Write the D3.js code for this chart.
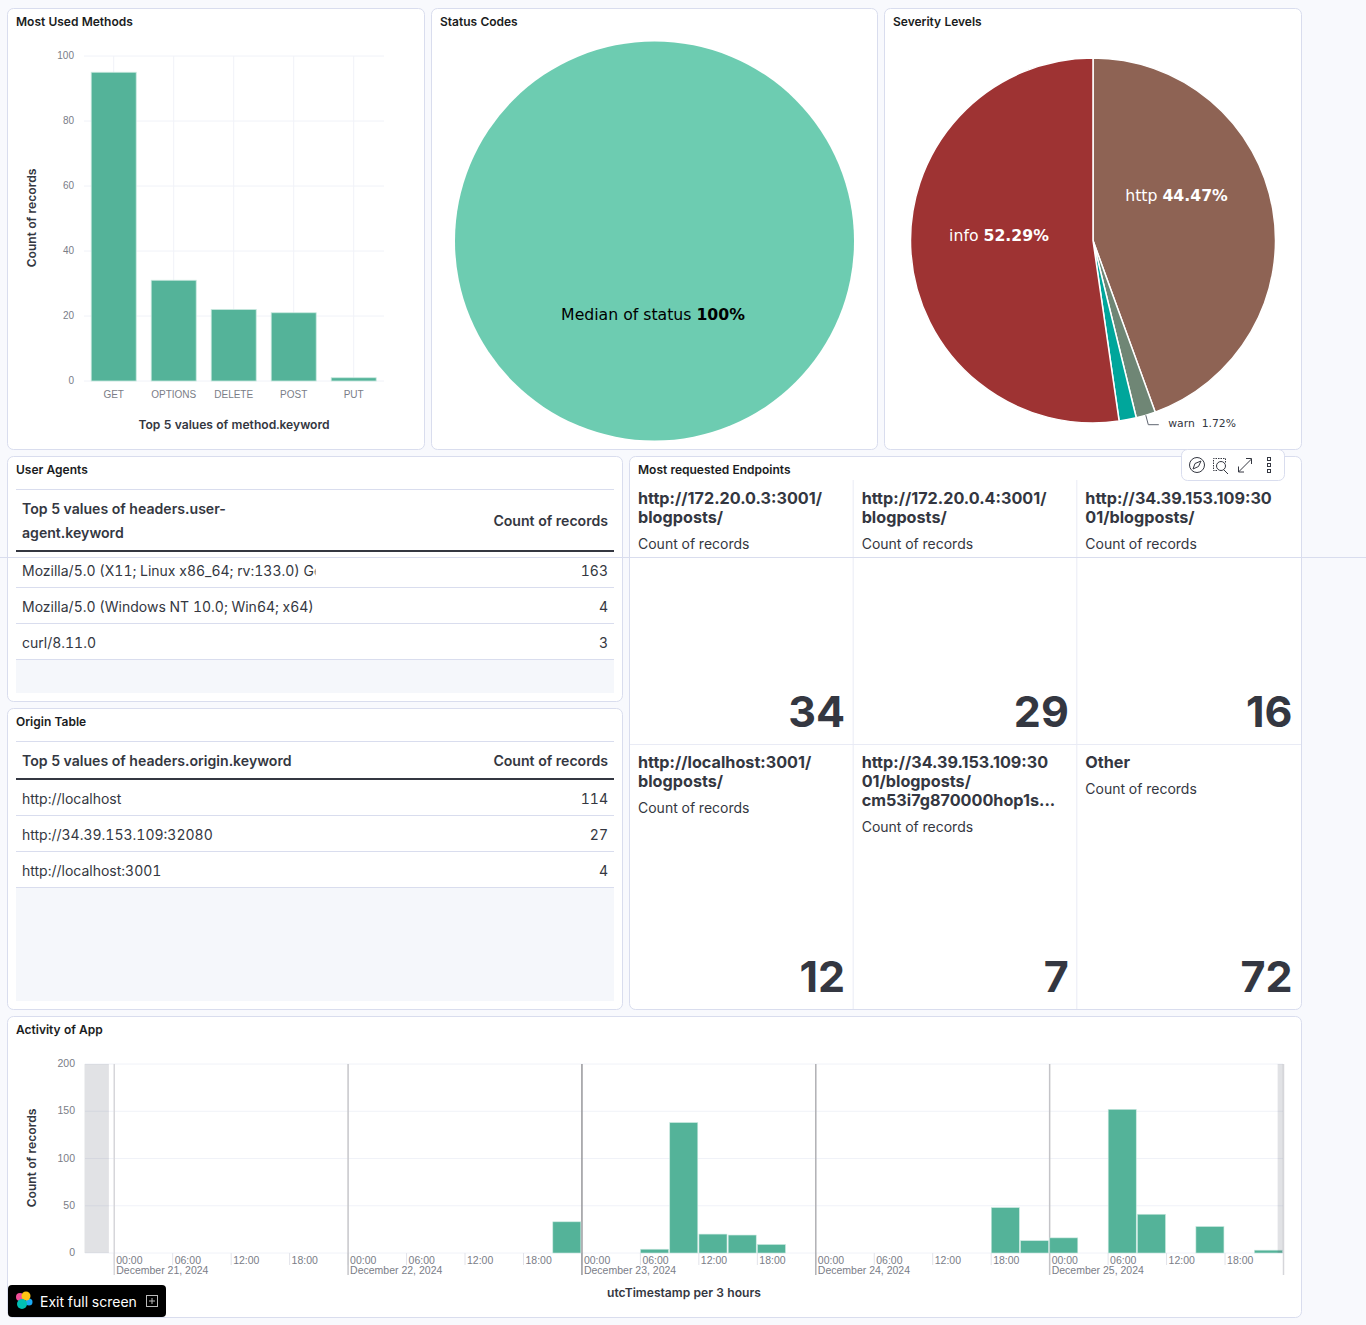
<!DOCTYPE html>
<html>
<head>
<meta charset="utf-8">
<script src="https://cdn.jsdelivr.net/npm/d3@7"></script>
<style>
	html, body { margin: 0; padding: 0; background: #f8f9fd; overflow: hidden; }
	svg { display: block; font-family: Inter, sans-serif; font-variant-numeric: tabular-nums; }
	.panel { fill: #fff; stroke: #d9ddee; }
	.panel-title { font-size: 12px; font-weight: 600; fill: #1a1c21; }
	.axis-title { font-size: 12.1px; font-weight: 600; fill: #343741; }
	.tick text { font-size: 10px; fill: #7a7d87; }
	.time-axis .tick text { font-size: 10.5px; }
	.domain { display: none; }
	.pie-label { font-family: "DejaVu Sans", sans-serif; font-size: 15.7px; }
	.th { font-size: 14.1px; font-weight: 600; fill: #343741; font-variant-numeric: normal; }
	.td { font-size: 14px; fill: #343741; }
	.metric-title { font-size: 16.2px; font-weight: 700; fill: #343741; font-variant-numeric: normal; }
	.metric-sub { font-size: 14px; fill: #343741; }
	.metric-value { font-size: 43px; font-weight: 700; fill: #343741; text-anchor: end; font-variant-numeric: normal; }
</style>
</head>
<body>
<script>
var methods = ["GET", "OPTIONS", "DELETE", "POST", "PUT"];
var methodCounts = [95, 31, 22, 21, 1];
var methodTicks = [0, 20, 40, 60, 80, 100];

var statusNames = ["Median of status"];
var statusShares = [100];

var severityNames = ["http", "warn", "error", "info"];
var severityShares = [44.47, 1.72, 1.52, 52.29];
var severityColors = ["#8e6354", "#6f8675", "#00a69b", "#9e3333"];

var agentNames = ["Mozilla/5.0 (X11; Linux x86_64; rv:133.0) Gecko/20100101 Firefox/133.0", "Mozilla/5.0 (Windows NT 10.0; Win64; x64)", "curl/8.11.0"];
var agentCounts = [163, 4, 3];

var originNames = ["http://localhost", "http://34.39.153.109:32080", "http://localhost:3001"];
var originCounts = [114, 27, 4];

var endpointTitles = [
	["http://172.20.0.3:3001/", "blogposts/"],
	["http://172.20.0.4:3001/", "blogposts/"],
	["http://34.39.153.109:30", "01/blogposts/"],
	["http://localhost:3001/", "blogposts/"],
	["http://34.39.153.109:30", "01/blogposts/", "cm53i7g870000hop1s..."],
	["Other"]
];
var endpointCounts = [34, 29, 16, 12, 7, 72];

var activityTimes = ["2024-12-22T21:00Z", "2024-12-23T06:00Z", "2024-12-23T09:00Z", "2024-12-23T12:00Z", "2024-12-23T15:00Z", "2024-12-23T18:00Z",
	"2024-12-24T18:00Z", "2024-12-24T21:00Z", "2024-12-25T00:00Z", "2024-12-25T06:00Z", "2024-12-25T09:00Z", "2024-12-25T15:00Z", "2024-12-25T21:00Z"];
var activityCounts = [33, 4, 138, 20, 19, 9, 48, 13, 16, 152, 41, 28, 3];
var activityTicks = [0, 50, 100, 150, 200];

var gridColor = "#f0f2f8";
var svg = d3.select("body").append("svg").attr("width", 1366).attr("height", 1325);

// Panels
var panels = [
	{x: 7.5, y: 8.5, w: 417, h: 441, title: "Most Used Methods"},
	{x: 431.5, y: 8.5, w: 446, h: 441, title: "Status Codes"},
	{x: 884.5, y: 8.5, w: 417, h: 441, title: "Severity Levels"},
	{x: 7.5, y: 456.5, w: 615, h: 245, title: "User Agents"},
	{x: 629.5, y: 456.5, w: 672, h: 553, title: "Most requested Endpoints"},
	{x: 7.5, y: 708.5, w: 615, h: 301, title: "Origin Table"},
	{x: 7.5, y: 1016.5, w: 1294, h: 301, title: "Activity of App"}
];
panels.forEach(function(p) {
	svg.append("rect").attr("class", "panel").attr("x", p.x).attr("y", p.y)
		.attr("width", p.w).attr("height", p.h).attr("rx", 6);
	svg.append("text").attr("class", "panel-title").attr("x", p.x + 8.5).attr("y", p.y + 17.5).text(p.title);
});

// Most used methods
var methodX = d3.scaleBand().domain(methods).range([83.7, 383.7]).paddingInner(0.25).paddingOuter(0.125);
var methodY = d3.scaleLinear().domain([0, 100]).range([381, 56]);

svg.append("g").attr("transform", "translate(0,381)")
	.call(d3.axisBottom(methodX).tickSize(0).tickPadding(10))
	.call(function(g) { g.selectAll("text").attr("dy", "0.71em"); });
svg.append("g").attr("transform", "translate(78,-0.5)")
	.call(d3.axisLeft(methodY).tickValues(methodTicks).tickSize(0).tickPadding(4));
svg.append("g").selectAll("line").data(methodTicks).enter().append("line")
	.attr("x1", 84).attr("x2", 384)
	.attr("y1", function(d) { return methodY(d); }).attr("y2", function(d) { return methodY(d); })
	.attr("stroke", gridColor);
svg.append("g").selectAll("line").data(methods).enter().append("line")
	.attr("x1", function(d) { return methodX(d) + methodX.bandwidth() / 2; })
	.attr("x2", function(d) { return methodX(d) + methodX.bandwidth() / 2; })
	.attr("y1", 56).attr("y2", 381).attr("stroke", gridColor);
svg.append("g").selectAll("rect").data(methods).enter().append("rect")
	.attr("x", function(d) { return methodX(d); })
	.attr("width", methodX.bandwidth())
	.attr("y", function(d, i) { return methodY(methodCounts[i]); })
	.attr("height", function(d, i) { return 381 - methodY(methodCounts[i]); })
	.attr("fill", "#54b399").attr("stroke", "#c9e8df").attr("stroke-width", 0.8);
svg.append("text").attr("class", "axis-title").attr("text-anchor", "middle")
	.attr("transform", "translate(36,218) rotate(-90)").text("Count of records");
svg.append("text").attr("class", "axis-title").attr("text-anchor", "middle")
	.attr("x", 234).attr("y", 429).text("Top 5 values of method.keyword");

// Status codes
var pie = d3.pie().sort(null);
var statusArc = d3.arc().innerRadius(0).outerRadius(199.5);
svg.append("g").attr("transform", "translate(654.5,241)")
	.selectAll("path").data(pie(statusShares)).enter().append("path")
	.attr("d", statusArc).attr("fill", "#6dccb1");
var statusText = svg.append("text").attr("class", "pie-label").attr("x", 653).attr("y", 320)
	.attr("text-anchor", "middle").attr("fill", "#000");
statusText.append("tspan").text(statusNames[0] + " ");
statusText.append("tspan").attr("font-weight", 700).text(statusShares[0] + "%");

// Severity levels
var severityR = 182.5;
var severityArc = d3.arc().innerRadius(0).outerRadius(severityR);
var severitySlices = pie(severityShares);
svg.append("g").attr("transform", "translate(1093,240.5)")
	.selectAll("path").data(severitySlices).enter().append("path")
	.attr("d", severityArc)
	.attr("fill", function(d, i) { return severityColors[i]; })
	.attr("stroke", "#fff").attr("stroke-width", 1.5);

function pieLabel(i, x, y) {
	var t = svg.append("text").attr("class", "pie-label").attr("x", x).attr("y", y)
		.attr("text-anchor", "middle").attr("fill", "#fff");
	t.append("tspan").text(severityNames[i] + " ");
	t.append("tspan").attr("font-weight", 700).text(severityShares[i] + "%");
}
pieLabel(0, 1176.5, 201);
pieLabel(3, 999, 241);

// Leader line for the warn slice
var warnAngle = (severitySlices[1].startAngle + severitySlices[1].endAngle) / 2;
var warnX = 1093 + severityR * Math.sin(warnAngle), warnY = 240.5 - severityR * Math.cos(warnAngle);
svg.append("path").attr("fill", "none").attr("stroke", "#5f6570")
	.attr("d", d3.line()([[warnX, warnY], [warnX + 2.5, warnY + 9.5], [warnX + 13, warnY + 9.5]]));
svg.append("text").attr("x", warnX + 22.5).attr("y", warnY + 11.5)
	.style("font-family", "'DejaVu Sans', sans-serif").style("font-size", "10.8px").attr("fill", "#343741")
	.attr("xml:space", "preserve").text(severityNames[1] + "  " + severityShares[1] + "%");

// Tables
function drawTable(opts) {
	svg.append("line").attr("x1", 16).attr("x2", 614).attr("y1", opts.top).attr("y2", opts.top).attr("stroke", "#d9ddee");
	opts.headLines.forEach(function(line, i) {
		svg.append("text").attr("class", "th").attr("x", 22).attr("y", opts.headY + i * 24).text(line);
	});
	svg.append("text").attr("class", "th").attr("x", 608).attr("y", opts.countY).attr("text-anchor", "end").text("Count of records");
	svg.append("line").attr("x1", 16).attr("x2", 614).attr("y1", opts.rule).attr("y2", opts.rule).attr("stroke", "#343741").attr("stroke-width", 2);

	var start = opts.rule + 0.5;
	var rowY = d3.scaleBand().domain(d3.range(opts.names.length)).range([start, start + 36 * opts.names.length]);
	var rows = svg.append("g").selectAll("g").data(opts.names).enter().append("g")
		.attr("transform", function(d, i) { return "translate(0," + rowY(i) + ")"; });
	rows.append("text").attr("class", "td").attr("x", 22).attr("y", 24.5)
		.attr("clip-path", function(d, i) { return opts.clip && i == 0 ? "url(#cell-row)" : null; })
		.text(function(d) { return d; });
	rows.append("text").attr("class", "td").attr("x", 608).attr("y", 24.5).attr("text-anchor", "end")
		.text(function(d, i) { return opts.counts[i]; });
	rows.append("line").attr("x1", 16).attr("x2", 614).attr("y1", 36).attr("y2", 36).attr("stroke", "#d9ddee");

	var last = start + 36 * opts.names.length + 0.5;
	svg.append("rect").attr("x", 16).attr("y", last).attr("width", 598).attr("height", opts.bottom - last).attr("fill", "#f5f7fb");
}

svg.append("clipPath").attr("id", "cell-row").append("rect").attr("x", 16).attr("y", 0).attr("width", 299.5).attr("height", 36);

drawTable({top: 489.5, headLines: ["Top 5 values of headers.user-", "agent.keyword"], headY: 514, countY: 526, rule: 551,
	names: agentNames, counts: agentCounts, bottom: 693, clip: true});
drawTable({top: 741.5, headLines: ["Top 5 values of headers.origin.keyword"], headY: 766, countY: 766, rule: 779,
	names: originNames, counts: originCounts, bottom: 1001, clip: false});

// Most requested endpoints
var cellX = d3.scaleBand().domain([0, 1, 2]).range([630, 1301]);
var cellY = d3.scaleBand().domain([0, 1]).range([480, 1008]);
var cells = svg.append("g").selectAll("g").data(endpointCounts).enter().append("g")
	.attr("transform", function(d, i) { return "translate(" + cellX(i % 3) + "," + cellY(Math.floor(i / 3)) + ")"; });
cells.each(function(d, i) {
	var cell = d3.select(this);
	var lines = endpointTitles[i];
	lines.forEach(function(line, j) {
		cell.append("text").attr("class", "metric-title").attr("x", 8).attr("y", 24 + j * 19).text(line);
	});
	cell.append("text").attr("class", "metric-sub").attr("x", 8).attr("y", 50 + (lines.length - 1) * 19).text("Count of records");
	cell.append("text").attr("class", "metric-value").attr("x", cellX.bandwidth() - 8.5).attr("y", i > 2 ? 248 : 247).text(d);
});
svg.append("g").selectAll("line").data([1, 2]).enter().append("line")
	.attr("x1", function(d) { return cellX(d) - 0.5; }).attr("x2", function(d) { return cellX(d) - 0.5; })
	.attr("y1", 480).attr("y2", 1009).attr("stroke", "#e9ebf5");
svg.append("line").attr("x1", 630).attr("x2", 1301).attr("y1", 744.5).attr("y2", 744.5).attr("stroke", "#e9ebf5");

// Stray line across the page
svg.append("line").attr("x1", 0).attr("x2", 1366).attr("y1", 557.5).attr("y2", 557.5).attr("stroke", "#d9ddee");

// Floating panel menu
var menu = svg.append("g");
menu.append("rect").attr("x", 1181.5).attr("y", 449.5).attr("width", 103).attr("height", 31).attr("rx", 6)
	.attr("fill", "#fff").attr("stroke", "#d9ddee");
var icon = menu.append("g").attr("fill", "none").attr("stroke", "#343741");
icon.append("circle").attr("cx", 1197).attr("cy", 465).attr("r", 7.5);
icon.append("path").attr("d", "M1201 461l-6 2.5-2 5.5 5.5-2.5z");
icon.append("path").attr("stroke-dasharray", "1.5 1").attr("d", "M1217 470.5h-3.5v-12h12v5");
icon.append("circle").attr("cx", 1221).attr("cy", 466).attr("r", 4.5);
icon.append("path").attr("d", "M1224 470l4 4");
icon.append("path").attr("d", "M1238.5 472l13-13M1246 458.5h5.5v5.5M1238.5 466.5v5.5h5.5");
[459, 465, 471].forEach(function(y) {
	icon.append("rect").attr("x", 1267.5).attr("y", y - 1.5).attr("width", 3).attr("height", 3);
});

// Activity of app
var parseTime = d3.isoParse;
var activityX = d3.scaleUtc()
	.domain([parseTime("2024-12-20T21:00Z"), parseTime("2024-12-26T00:00Z")])
	.range([84.5, 1283]);
var activityY = d3.scaleLinear().domain([0, 200]).range([1253, 1064]);
var binMs = 3 * 3600 * 1000;
var sixHours = d3.utcHour.range(parseTime("2024-12-21T00:00Z"), parseTime("2024-12-26T00:00Z"), 6);
var days = d3.utcDay.range(parseTime("2024-12-21T00:00Z"), parseTime("2024-12-27T00:00Z"));
var dayShades = ["#d6d6da", "#c6c6ca", "#97979b", "#b0b0b4", "#c4c4c8", "#d6d6da"];

svg.append("g").selectAll("line").data(activityTicks).enter().append("line")
	.attr("x1", 85).attr("x2", 1283)
	.attr("y1", function(d) { return activityY(d); }).attr("y2", function(d) { return activityY(d); })
	.attr("stroke", gridColor);
svg.append("g").attr("class", "time-axis").attr("transform", "translate(78,-0.7)")
	.call(d3.axisLeft(activityY).tickValues(activityTicks).tickSize(0).tickPadding(3));

svg.append("g").attr("class", "time-axis").attr("transform", "translate(0,1253)")
	.call(d3.axisBottom(activityX).tickValues(sixHours).tickSize(12).tickFormat(d3.utcFormat("%H:%M")))
	.call(function(g) {
		g.selectAll("line").attr("stroke", "#e2e3ea");
		g.selectAll("text").attr("x", 2).attr("y", 4).attr("dy", "0.71em").attr("text-anchor", "start");
	});
svg.append("g").attr("class", "time-axis").attr("transform", "translate(0,1253)")
	.call(d3.axisBottom(activityX).tickValues(days).tickSize(22).tickFormat(d3.utcFormat("%B %d, %Y")))
	.call(function(g) {
		g.selectAll("line").attr("stroke", function(d, i) { return dayShades[i]; }).attr("stroke-width", 1.5).attr("y1", -189);
		g.selectAll("text").attr("x", 2).attr("y", 14).attr("dy", "0.71em").attr("text-anchor", "start")
			.text(function(d, i) { return i < 5 ? d3.select(this).text() : ""; });
	});

svg.append("g").selectAll("rect").data(activityCounts).enter().append("rect")
	.attr("x", function(d, i) { return activityX(parseTime(activityTimes[i])) + 0.6; })
	.attr("width", function(d, i) { var t = parseTime(activityTimes[i]); return activityX(new Date(+t + binMs)) - activityX(t) - 1.2; })
	.attr("y", function(d) { return activityY(d); })
	.attr("height", function(d) { return 1253 - activityY(d); })
	.attr("fill", "#54b399").attr("stroke", "#c9e8df").attr("stroke-width", 0.6);

// Out of range overlays
var overlayEdges = [["2024-12-20T21:00Z", "2024-12-20T23:30Z"], ["2024-12-25T23:27Z", "2024-12-26T00:00Z"]];
svg.append("g").selectAll("rect").data(overlayEdges).enter().append("rect")
	.attr("x", function(d) { return activityX(parseTime(d[0])); })
	.attr("width", function(d) { return activityX(parseTime(d[1])) - activityX(parseTime(d[0])); })
	.attr("y", 1064).attr("height", 189)
	.attr("fill", "#69707d").attr("fill-opacity", 0.2);

svg.append("text").attr("class", "axis-title").attr("text-anchor", "middle")
	.attr("transform", "translate(36,1158) rotate(-90)").text("Count of records");
svg.append("text").attr("class", "axis-title").attr("text-anchor", "middle")
	.attr("x", 684).attr("y", 1297).text("utcTimestamp per 3 hours");

// Exit full screen button
var exit = svg.append("g");
exit.append("rect").attr("x", 8).attr("y", 1285).attr("width", 158).attr("height", 32).attr("rx", 4).attr("fill", "#000");
[["#f04e98", 20, 1297, 4], ["#1ba9f5", 29, 1302, 3.5], ["#fec514", 26, 1296, 4.5], ["#00bfb3", 22, 1304, 5]].forEach(function(c) {
	exit.append("circle").attr("cx", c[1]).attr("cy", c[2]).attr("r", c[3]).attr("fill", c[0]);
});
exit.append("text").attr("x", 40).attr("y", 1306.5).attr("fill", "#fff").style("font-size", "14px").text("Exit full screen");
exit.append("rect").attr("x", 146.5).attr("y", 1295.5).attr("width", 11).attr("height", 11).attr("fill", "none").attr("stroke", "#bbb");
exit.append("path").attr("stroke", "#bbb").attr("d", "M152 1298v6M149 1301h6");
</script>
</body>
</html>
